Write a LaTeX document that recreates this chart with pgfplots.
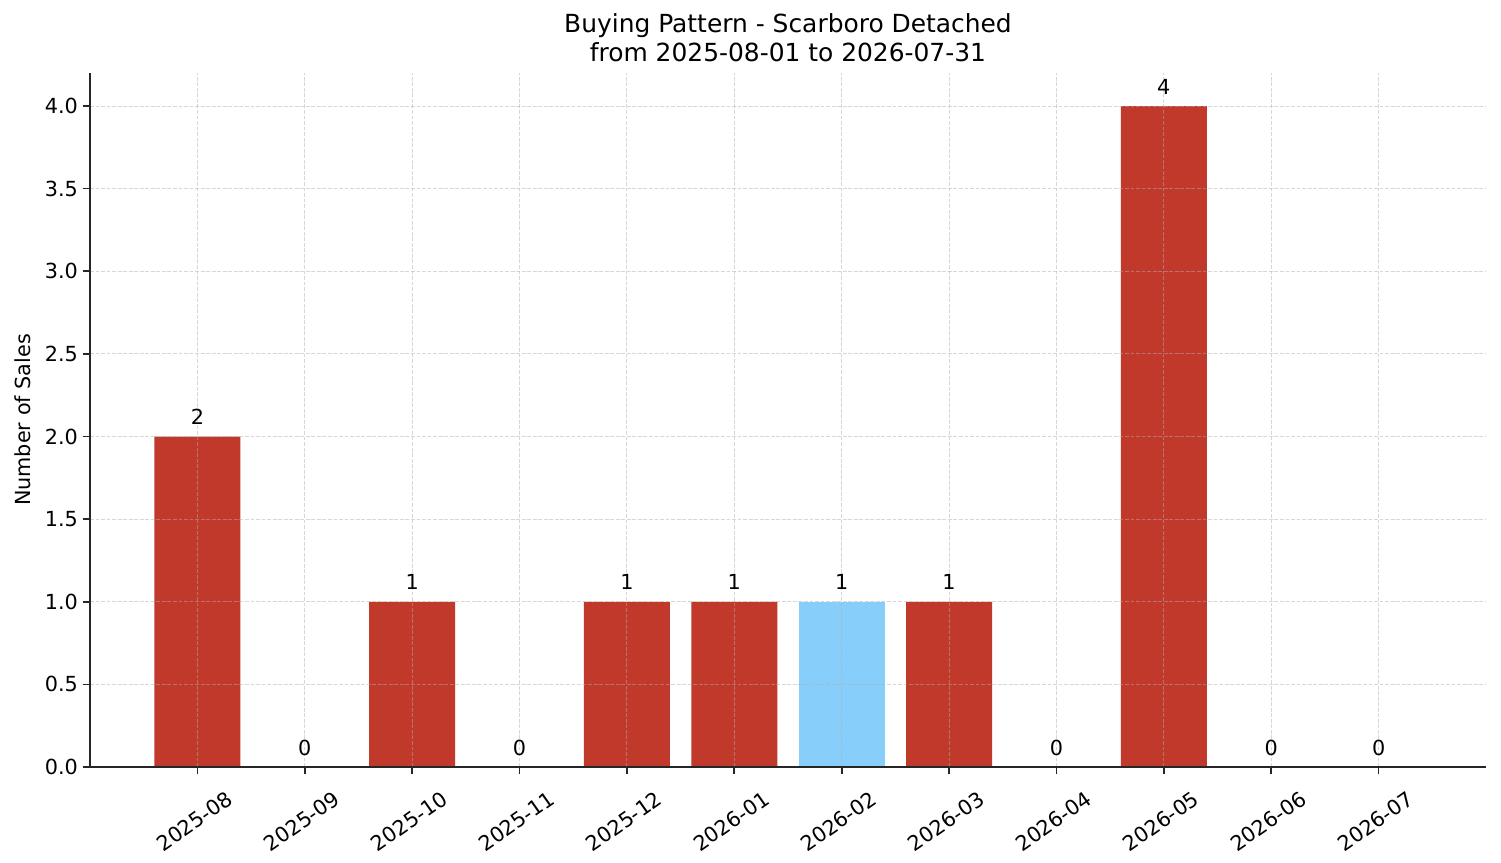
\documentclass[border=0pt]{standalone}
\usepackage{fontspec}
\setmainfont{DejaVu Sans}
\usepackage{pgfplots}
\pgfplotsset{compat=1.18}

\definecolor{barred}{HTML}{C0392B}
\definecolor{barblue}{HTML}{87CEFA}
\definecolor{gridgray}{HTML}{B0B0B0}

\begin{document}
\begin{tikzpicture}
\begin{axis}[
  at={(0,0)}, anchor=south west,
  scale only axis,
  width=13.96in, height=6.94in,
  xmin=-1, xmax=12,
  ymin=0, ymax=4.2,
  axis x line*=bottom,
  axis y line*=left,
  axis line style={line width=1.2pt, black!85},
  tick align=outside,
  major tick length=5.25pt,
  tick style={line width=1.2pt, black!85},
  xtick={0,...,11},
  xticklabels={2025-08,2025-09,2025-10,2025-11,2025-12,2026-01,2026-02,2026-03,2026-04,2026-05,2026-06,2026-07},
  xticklabel style={xshift=-0.03in, yshift=-0.47in, rotate=35, anchor=center, font=\fontsize{15}{18}\selectfont},
  ytick={0,0.5,...,4.0},
  yticklabel style={font=\fontsize{15}{18}\selectfont, /pgf/number format/.cd, fixed, fixed zerofill, precision=1},
  /pgf/number format/assume math mode=true,
  ymajorgrids=true, xmajorgrids=true,
  grid style={gridgray, opacity=0.5, line width=0.75pt, dash pattern=on 2.8pt off 1.2pt},
  axis on top,
  ybar, bar width=0.8, bar shift=0pt,
  every axis y label/.style={at={(axis description cs:-0.048,0.5)}, rotate=90, anchor=center},
  ylabel={\fontsize{15}{18}\selectfont Number of Sales},
  title={Buying Pattern - Scarboro Detached\\from 2025-08-01 to 2026-07-31},
  title style={at={(axis description cs:0.5,1)}, anchor=south, inner sep=0pt, yshift=0.03in, align=center, font=\fontsize{18}{20.9}\selectfont},
  nodes near coords,
  every node near coord/.append style={anchor=base, yshift=0.12in, inner sep=0pt, font=\fontsize{15}{18}\selectfont},
  point meta=explicit symbolic,
]
\addplot[fill=barred, draw=none] coordinates {
  (0,2) [2] (1,0) [0] (2,1) [1] (3,0) [0] (4,1) [1] (5,1) [1]
  (7,1) [1] (8,0) [0] (9,4) [4] (10,0) [0] (11,0) [0]
};
\addplot[fill=barblue, draw=none] coordinates {
  (6,1) [1]
};
\end{axis}
\pgfresetboundingbox
\path[use as bounding box] (-0.90in,-0.96in) rectangle (14.11in,7.67in);
\end{tikzpicture}
\end{document}
